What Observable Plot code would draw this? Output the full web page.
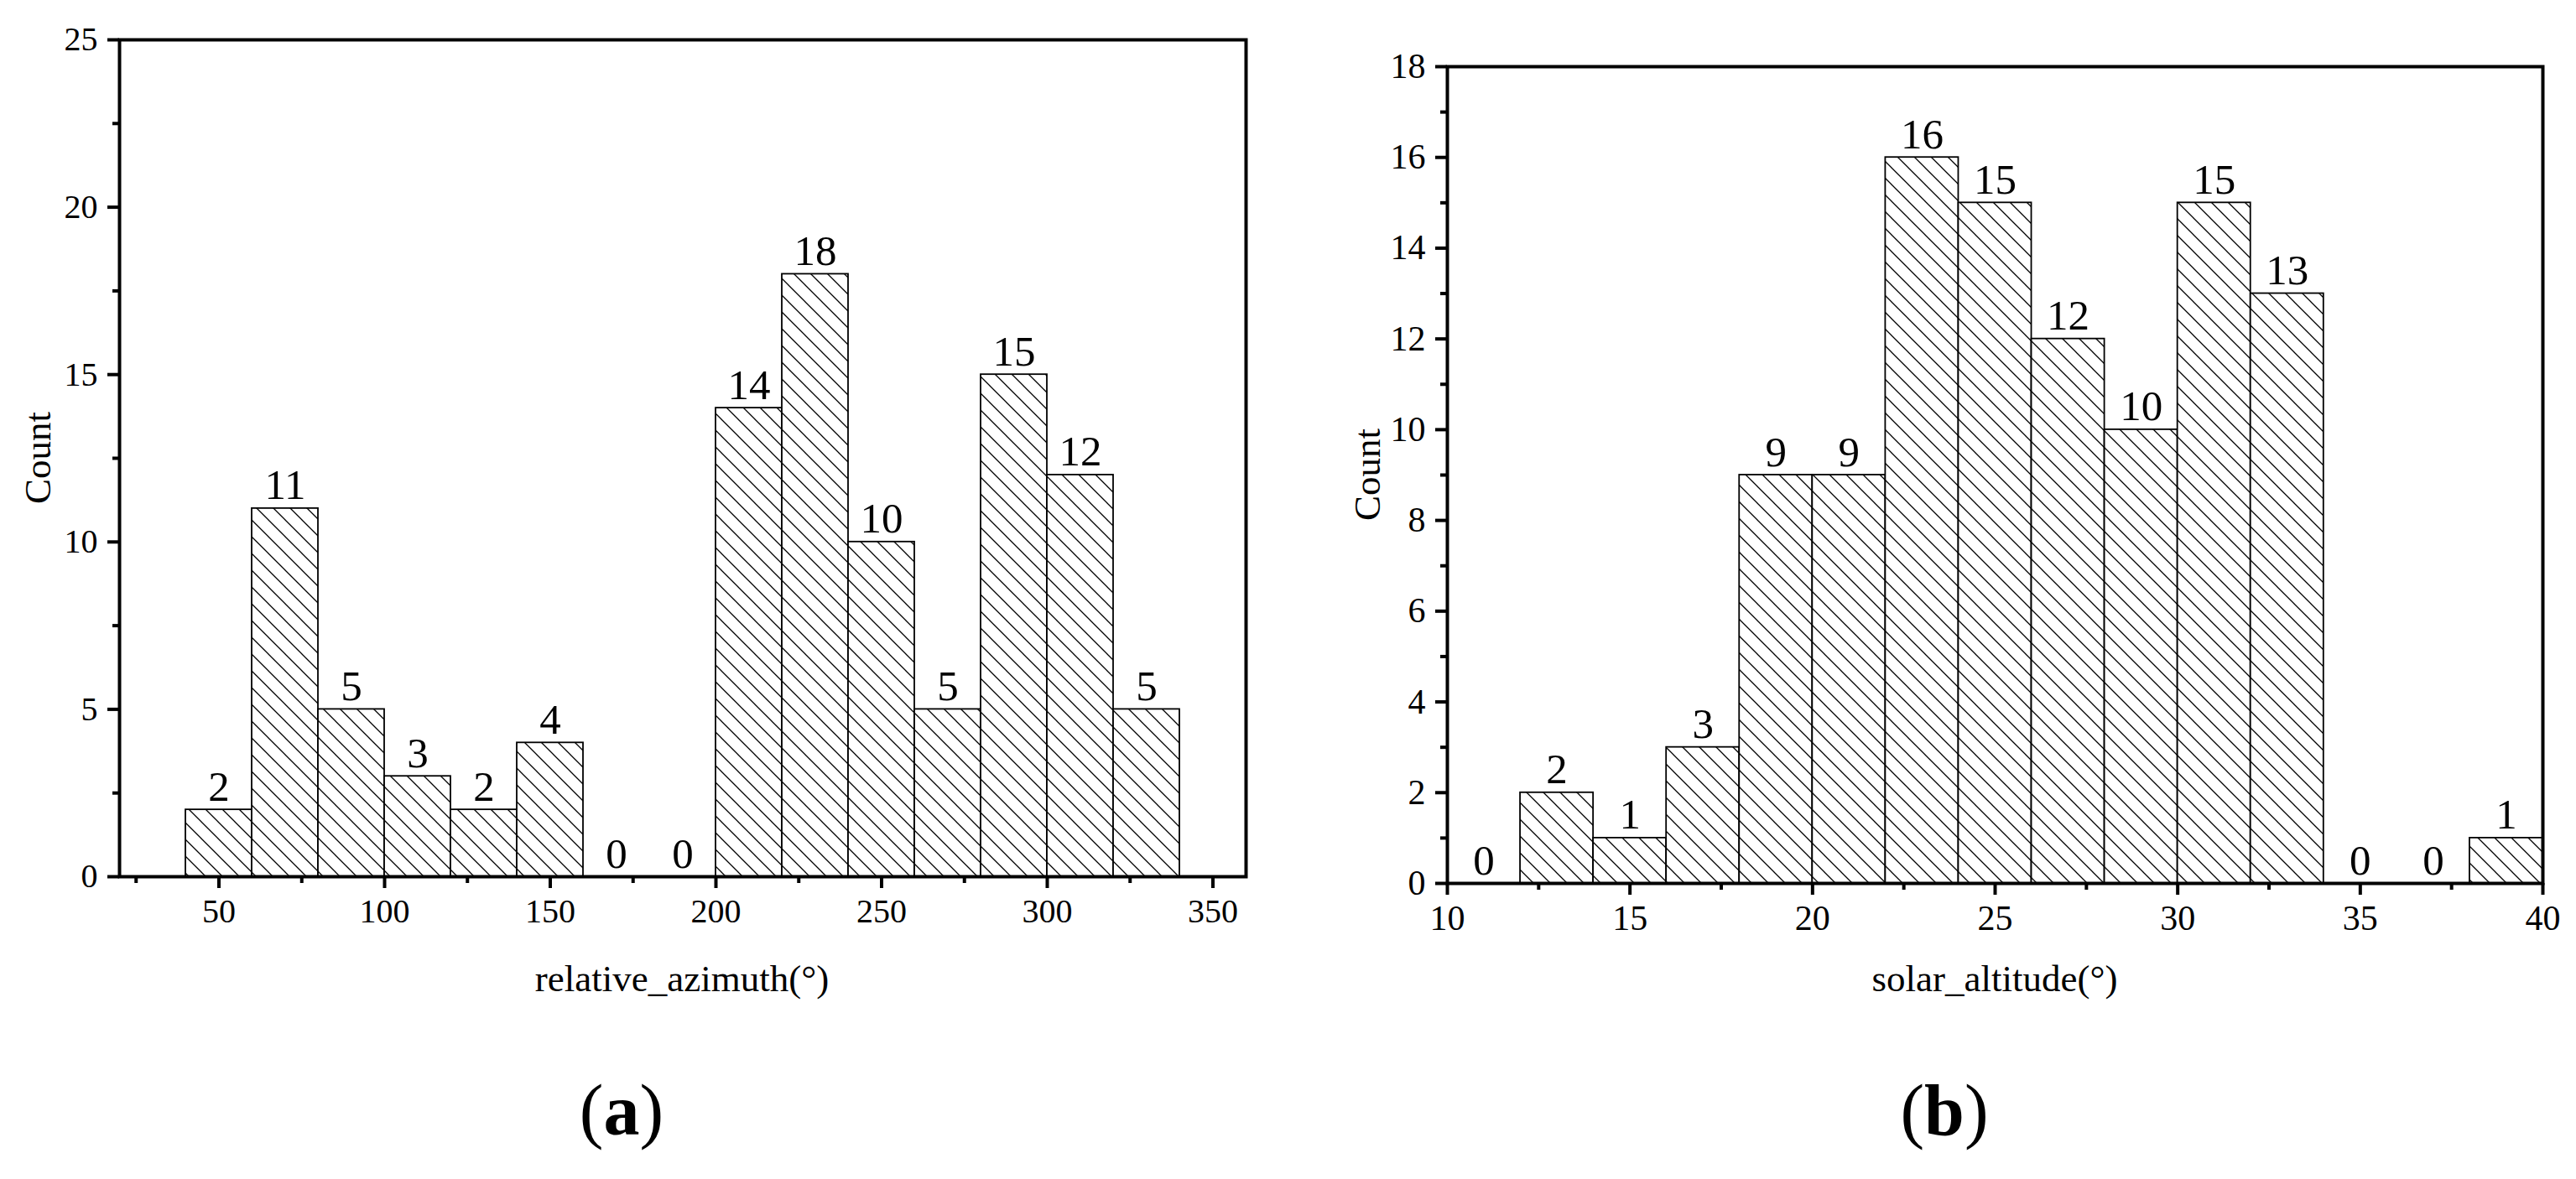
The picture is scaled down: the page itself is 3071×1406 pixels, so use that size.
<!DOCTYPE html>
<html>
<head>
<meta charset="utf-8">
<script src="https://cdn.jsdelivr.net/npm/d3@7"></script>
<script src="https://cdn.jsdelivr.net/npm/@observablehq/plot@0.6"></script>
<style>
  html, body { margin: 0; padding: 0; background: #fff; }
  #root { position: relative; width: 3071px; height: 1406px; background: #fff; overflow: hidden;
          font-family: "Liberation Serif", "Times New Roman", serif; color: #000; }
  .panel { position: absolute; top: 0; }
  .panel svg text { font-family: "Liberation Serif", "Times New Roman", serif; }
  .txt { position: absolute; line-height: 1; white-space: nowrap; }
</style>
</head>
<body>
<div id="root"></div>
<script>
// ---------- data ----------
const azimuthBinStart = [40, 60, 80, 100, 120, 140, 160, 180, 200, 220, 240, 260, 280, 300, 320];
const azimuthCounts   = [2, 11, 5, 3, 2, 4, 0, 0, 14, 18, 10, 5, 15, 12, 5];
const azimuthBinWidth = 20;
const azimuthDomain   = [20, 360];
const azimuthYDomain  = [0, 25];
const azimuthXTicks   = [50, 100, 150, 200, 250, 300, 350];
const azimuthXMinor   = [25, 75, 125, 175, 225, 275, 325];
const azimuthYTicks   = [0, 5, 10, 15, 20, 25];
const azimuthYMinor   = [2.5, 7.5, 12.5, 17.5, 22.5];

const altitudeBinStart = [10, 12, 14, 16, 18, 20, 22, 24, 26, 28, 30, 32, 34, 36, 38];
const altitudeCounts   = [0, 2, 1, 3, 9, 9, 16, 15, 12, 10, 15, 13, 0, 0, 1];
const altitudeBinWidth = 2;
const altitudeDomain   = [10, 40];
const altitudeYDomain  = [0, 18];
const altitudeXTicks   = [10, 15, 20, 25, 30, 35, 40];
const altitudeXMinor   = [12.5, 17.5, 22.5, 27.5, 32.5, 37.5];
const altitudeYTicks   = [0, 2, 4, 6, 8, 10, 12, 14, 16, 18];
const altitudeYMinor   = [1, 3, 5, 7, 9, 11, 13, 15, 17];

const labelA = "relative_azimuth(°)";
const labelB = "solar_altitude(°)";
const yLabel = "Count";

const SERIF = '"Liberation Serif", "Times New Roman", serif';

// ---------- helpers ----------
function bins(starts, counts, w) {
  return starts.map((s, i) => ({x1: s, x2: s + w, mid: s + w / 2, count: counts[i]}));
}

function histogram(cfg) {
  const data = bins(cfg.starts, cfg.counts, cfg.binWidth);
  const svg = Plot.plot({
    width: cfg.width, height: cfg.height,
    marginLeft: cfg.ml, marginRight: cfg.mr, marginTop: cfg.mt, marginBottom: cfg.mb,
    style: {fontFamily: SERIF, fontSize: cfg.tickFont + "px",
            color: "#000", background: "transparent", overflow: "visible"},
    x: {domain: cfg.xDomain},
    y: {domain: cfg.yDomain},
    marks: [
      Plot.rectY(data.filter(d => d.count > 0), {
        x1: "x1", x2: "x2", y1: 0, y2: "count",
        fill: `url(#${cfg.patternId})`, stroke: "#000", strokeWidth: 1.8
      }),
      Plot.text(data, {
        x: "mid", y: "count", text: d => String(d.count),
        lineAnchor: "bottom", dy: -11, fontSize: cfg.barFont, fontFamily: SERIF, fill: "#000"
      }),
      Plot.frame({stroke: "#000", strokeWidth: 4}),
      Plot.axisX({ticks: cfg.xTicks, tickSize: 14, tickPadding: 12, strokeWidth: 4,
                  tickFormat: d => String(d), label: null, fontSize: cfg.tickFont, fontFamily: SERIF}),
      Plot.axisX({ticks: cfg.xMinor, tickSize: 8, strokeWidth: 4, text: null, label: null}),
      Plot.axisY({ticks: cfg.yTicks, tickSize: 14, tickPadding: 12, strokeWidth: 4,
                  tickFormat: d => String(d), label: null, fontSize: cfg.tickFont, fontFamily: SERIF}),
      Plot.axisY({ticks: cfg.yMinor, tickSize: 8, strokeWidth: 4, text: null, label: null})
    ]
  });
  // hatch pattern definition
  const ns = "http://www.w3.org/2000/svg";
  const defs = document.createElementNS(ns, "defs");
  const pat = document.createElementNS(ns, "pattern");
  pat.setAttribute("id", cfg.patternId);
  pat.setAttribute("patternUnits", "userSpaceOnUse");
  pat.setAttribute("width", 20);
  pat.setAttribute("height", 20);
  const bg = document.createElementNS(ns, "rect");
  bg.setAttribute("width", 20); bg.setAttribute("height", 20); bg.setAttribute("fill", "#fff");
  const p = document.createElementNS(ns, "path");
  p.setAttribute("d", "M-5,-5L25,25M-5,15L5,25M15,-5L25,5");
  p.setAttribute("stroke", "#000");
  p.setAttribute("stroke-width", "1.3");
  pat.appendChild(bg); pat.appendChild(p);
  defs.appendChild(pat);
  svg.insertBefore(defs, svg.firstChild);
  return svg;
}

const root = document.getElementById("root");

function addPanel(svg, left) {
  const d = document.createElement("div");
  d.className = "panel";
  d.style.left = left + "px";
  d.appendChild(svg);
  root.appendChild(d);
}

function addText(html, x, baseline, size, opts = {}) {
  const d = document.createElement("div");
  d.className = "txt";
  d.innerHTML = html;
  d.style.fontSize = size + "px";
  if (opts.rotate) {
    d.style.left = x + "px";
    d.style.top = baseline + "px";
    d.style.transform = "translate(-50%, -50%) rotate(-90deg)";
  } else {
    d.style.left = x + "px";
    d.style.top = (baseline - 0.8375 * size) + "px";
    d.style.transform = "translateX(-50%)";
  }
  root.appendChild(d);
}

// Left panel (a)
addPanel(histogram({
  starts: azimuthBinStart, counts: azimuthCounts, binWidth: azimuthBinWidth,
  xDomain: azimuthDomain, yDomain: azimuthYDomain,
  xTicks: azimuthXTicks, xMinor: azimuthXMinor, yTicks: azimuthYTicks, yMinor: azimuthYMinor,
  width: 1535, height: 1145, ml: 142, mr: 50, mt: 47, mb: 100,
  tickFont: 40, barFont: 51, patternId: "hatchA"
}), 0);

// Right panel (b)
addPanel(histogram({
  starts: altitudeBinStart, counts: altitudeCounts, binWidth: altitudeBinWidth,
  xDomain: altitudeDomain, yDomain: altitudeYDomain,
  xTicks: altitudeXTicks, xMinor: altitudeXMinor, yTicks: altitudeYTicks, yMinor: altitudeYMinor,
  width: 1526, height: 1153, ml: 190, mr: 30, mt: 79, mb: 100,
  tickFont: 42, barFont: 51, patternId: "hatchB"
}), 1535);

// axis titles and panel letters
addText(labelA, 813, 1183, 45);
addText(labelB, 2378, 1183, 45);
addText(yLabel, 45, 546, 45, {rotate: true});
addText(yLabel, 1630, 566, 45, {rotate: true});
addText("(<b>a</b>)", 741, 1353, 86);
addText("(<b>b</b>)", 2318, 1353, 86);
</script>
</body>
</html>
